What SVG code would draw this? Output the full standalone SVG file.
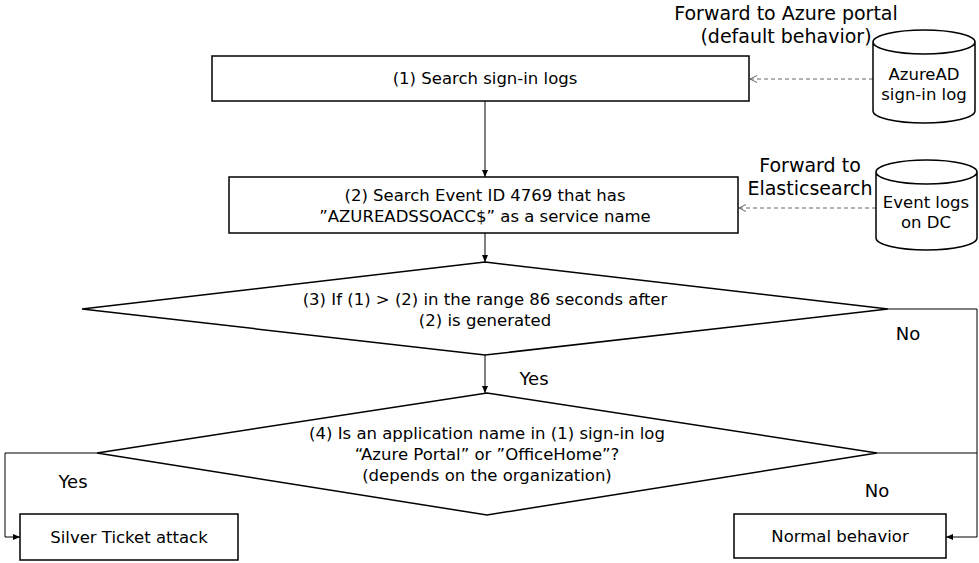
<svg xmlns="http://www.w3.org/2000/svg" width="979" height="563" viewBox="0 0 979 563">
<style>
.s{fill:#fff;stroke:#000;stroke-width:1.5}
text{font-family:"DejaVu Sans",sans-serif;font-size:16.5px;text-anchor:middle;fill:#000}
.c{fill:none;stroke:#000;stroke-width:1}
.d{fill:none;stroke:#666;stroke-width:1;stroke-dasharray:4 3}
.l{font-size:19px}
.y{font-size:18px}
</style>
<defs>
<marker id="a" markerWidth="8" markerHeight="8" refX="7" refY="4" orient="auto" markerUnits="userSpaceOnUse"><path d="M0,1 L7,4 L0,7 z" fill="#000"/></marker>
<marker id="o" markerWidth="8" markerHeight="8" refX="7" refY="4" orient="auto" markerUnits="userSpaceOnUse"><path d="M0,0.5 L7,4 L0,7.5" fill="none" stroke="#666"/></marker>
</defs>
<g id="connectors">
<path class="c" d="M485,101 V177" marker-end="url(#a)"/>
<path class="c" d="M485,233 V262" marker-end="url(#a)"/>
<path class="c" d="M485,355 V393" marker-end="url(#a)"/>
<path class="c" d="M97,453 H5 V537 H20" marker-end="url(#a)"/>
<path class="c" d="M888,309 H977 V537 H946" marker-end="url(#a)"/>
<path class="c" d="M877,453 H977"/>
<path class="d" d="M873,79 H750" marker-end="url(#o)"/>
<path class="d" d="M876,208 H739" marker-end="url(#o)"/>
<text x="534" y="385" class="y">Yes</text>
<text x="908" y="340" class="y">No</text>
<text x="73" y="488" class="y">Yes</text>
<text x="877" y="497" class="y">No</text>
<text x="786" y="20" class="l">Forward to Azure portal</text>
<text x="786" y="43" class="l">(default behavior)</text>
<text x="810" y="172" class="l">Forward to</text>
<text x="810" y="195" class="l">Elasticsearch</text>
</g>
<g id="n1"><rect class="s" x="212" y="56" width="537" height="45"/><text x="485" y="84">(1) Search sign-in logs</text></g>
<g id="n2"><rect class="s" x="229" y="177" width="509" height="56"/><text x="485" y="201">(2) Search Event ID 4769 that has</text><text x="485" y="222">”AZUREADSSOACC$” as a service name</text></g>
<g id="n3"><path class="s" d="M82,309 L485,262 L888,309 L485,355 z"/><text x="485" y="305">(3) If (1) &gt; (2) in the range 86 seconds after</text><text x="485" y="326">(2) is generated</text></g>
<g id="n4"><path class="s" d="M97,453 L487,393 L877,453 L487,515 z"/><text x="487" y="439">(4) Is an application name in (1) sign-in log</text><text x="487" y="460">“Azure Portal” or ”OfficeHome”?</text><text x="487" y="481">(depends on the organization)</text></g>
<g id="n5"><rect class="s" x="20" y="514" width="218" height="46"/><text x="129" y="543">Silver Ticket attack</text></g>
<g id="n6"><rect class="s" x="734" y="514" width="212" height="44"/><text x="840" y="542">Normal behavior</text></g>
<g id="n7"><path class="s" d="M873,42 V111 A51,12 0 0 0 975,111 V42 A51,12 0 0 0 873,42 A51,12 0 0 0 975,42"/><text x="924" y="80">AzureAD</text><text x="924" y="100">sign-in log</text></g>
<g id="n8"><path class="s" d="M876,172 V238 A50.5,12 0 0 0 977,238 V172 A50.5,12 0 0 0 876,172 A50.5,12 0 0 0 977,172"/><text x="926" y="208">Event logs</text><text x="926" y="228">on DC</text></g>
</svg>
